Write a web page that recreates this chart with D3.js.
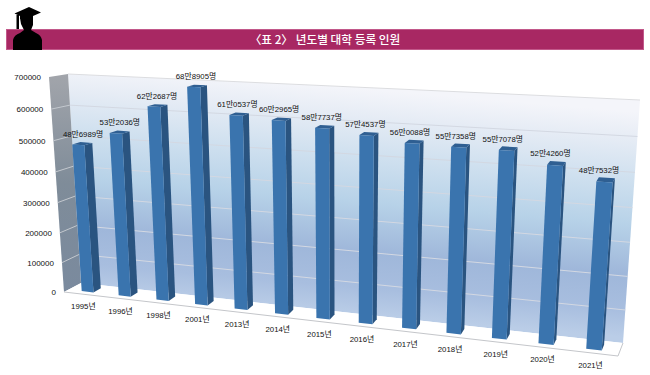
<!DOCTYPE html>
<html>
<head>
<meta charset="utf-8">
<script src="https://cdnjs.cloudflare.com/ajax/libs/d3/7.8.5/d3.min.js"></script>
<style>
	html, body { margin: 0; padding: 0; background: #fff; }
	svg { display: block; }
	text { font-family: "Liberation Sans", "Noto Sans CJK KR", sans-serif; }
</style>
</head>
<body>
<div id="chart"></div>
<script>
const years = ['1995년', '1996년', '1998년', '2001년', '2013년', '2014년', '2015년', '2016년', '2017년', '2018년', '2019년', '2020년', '2021년']
const students = [486989, 532036, 622687, 688905, 610537, 602965, 587737, 574537, 560088, 557358, 557078, 524260, 487532]
const studentLabels = ['48만6989명', '53만2036명', '62만2687명', '68만8905명', '61만0537명', '60만2965명', '58만7737명', '57만4537명', '56만0088명', '55만7358명', '55만7078명', '52만4260명', '48만7532명']
const yTicks = [0, 100000, 200000, 300000, 400000, 500000, 600000, 700000]
const title = '〈표 2〉 년도별 대학 등록 인원'

const width = 650
const height = 375

// corners of the chart box on screen: tl, tr, br, bl
const frontQuad = [[49, 77], [635, 108], [618, 356], [64, 292]]
const backQuad = [[68, 74], [640, 100], [623, 343], [81, 283]]

// unit square -> quad, so the perspective of the original comes out right
function homography(q) {
	const [[x0, y0], [x1, y1], [x2, y2], [x3, y3]] = q
	const dx1 = x1 - x2, dx2 = x3 - x2, sx = x0 - x1 + x2 - x3
	const dy1 = y1 - y2, dy2 = y3 - y2, sy = y0 - y1 + y2 - y3
	const det = dx1 * dy2 - dx2 * dy1
	const g = (sx * dy2 - dx2 * sy) / det
	const h = (dx1 * sy - sx * dy1) / det
	const a = x1 - x0 + g * x1, b = x3 - x0 + h * x3
	const d = y1 - y0 + g * y1, e = y3 - y0 + h * y3
	return (u, v) => {
		const w = g * u + h * v + 1
		return [(a * u + b * v + x0) / w, (d * u + e * v + y0) / w]
	}
}
const frontH = homography(frontQuad)
const backH = homography(backQuad)

// u: 0-1 along categories, value: chart value, depth: 0 front, 1 back
function project(u, value, depth) {
	const v = 1 - yScale(value)
	const p = frontH(u, v)
	const q = backH(u, v)
	return [p[0] + (q[0] - p[0]) * depth, p[1] + (q[1] - p[1]) * depth]
}

const xScale = d3.scaleBand().domain(years).range([0, 1]).paddingInner(0.68).paddingOuter(0.36)
const yScale = d3.scaleLinear().domain([0, 700000]).range([0, 1])
const maxValue = yScale.domain()[1]

// value labels drift left of their bars towards the right of the chart
const labelShift = d3.scaleLinear().domain([0, 1]).range([1, -7])

const barFront = 0.27
const barBack = 0.72

const line = d3.line()
const poly = pts => line(pts) + 'Z'
const center = d => xScale(d) + xScale.bandwidth() / 2

const svg = d3.select('#chart').append('svg')
	.attr('width', width)
	.attr('height', height)

const defs = svg.append('defs')

// wall gradient runs along the value direction of the wall
const gTop = project(0.5, maxValue, 1)
const gBottom = project(0.5, 0, 1)
const tilt = 0.085
const wallGrad = defs.append('linearGradient')
	.attr('id', 'wallGrad')
	.attr('gradientUnits', 'userSpaceOnUse')
	.attr('x1', gTop[0]).attr('y1', gTop[1])
	.attr('x2', gTop[0] - tilt * (gBottom[1] - gTop[1])).attr('y2', gBottom[1])
wallGrad.selectAll('stop')
	.data([[0, '#f4f5fa'], [0.12, '#e6ecf5'], [0.3, '#cfe0ef'], [0.5, '#b7d2e8'], [0.72, '#9fb7da'], [0.88, '#a8bedf'], [1, '#bacde7']])
	.join('stop')
	.attr('offset', d => d[0])
	.attr('stop-color', d => d[1])

const sideGrad = defs.append('linearGradient')
	.attr('id', 'sideGrad')
	.attr('x1', 0).attr('y1', 0).attr('x2', 0).attr('y2', 1)
sideGrad.selectAll('stop')
	.data([[0, '#a2a5ab'], [0.5, '#7f8c99'], [1, '#7a8a9e']])
	.join('stop')
	.attr('offset', d => d[0])
	.attr('stop-color', d => d[1])

// header band
svg.append('rect')
	.attr('x', 6.5).attr('y', 29.5)
	.attr('width', 637).attr('height', 20)
	.attr('fill', '#a82863')
	.attr('stroke', '#c2588a')
	.attr('stroke-width', 1)

svg.append('text')
	.attr('x', 325).attr('y', 44)
	.attr('text-anchor', 'middle')
	.attr('fill', '#fff')
	.style('font-family', '"Noto Sans CJK KR", sans-serif')
	.style('font-size', '11.7px')
	.style('font-weight', 500)
	.text(title)

// graduate silhouette
const grad = svg.append('g').attr('fill', '#000')
grad.append('path').attr('d', 'M13 50 L13 40 Q14 35 20 33 L24 30 L21 24 L20 18 L33 18 L33 25 L31 30 L36 33 Q41 35 42 40 L42 50 Z')
grad.append('path').attr('d', 'M14.5 13.5 L29 7 L41 12.5 L33 16 L33 19 L20 19 L20 16 Z')
grad.append('rect').attr('x', 16.5).attr('y', 15).attr('width', 2.5).attr('height', 14)

// walls and floor
svg.append('path')
	.attr('d', poly([project(0, maxValue, 1), project(1, maxValue, 1), project(1, 0, 1), project(0, 0, 1)]))
	.attr('fill', 'url(#wallGrad)')

svg.append('path')
	.attr('d', poly([project(0, maxValue, 0), project(0, maxValue, 1), project(0, 0, 1), project(0, 0, 0)]))
	.attr('fill', 'url(#sideGrad)')

svg.append('path')
	.attr('d', poly([project(0, 0, 0), project(0, 0, 1), project(1, 0, 1), project(1, 0, 0)]))
	.attr('fill', '#fff')
	.attr('stroke', 'none')

svg.append('path')
	.attr('d', line([project(0, 0, 0), project(1, 0, 0), project(1, 0, 1)]))
	.attr('fill', 'none')
	.attr('stroke', '#c4c6ca')
	.attr('stroke-width', 1)

// grid lines across the back wall and the side wall
const grid = svg.append('g')
grid.selectAll('.wall-line')
	.data(yTicks.filter(d => d > 0))
	.join('path')
	.attr('class', 'wall-line')
	.attr('d', d => line([project(0, d, 1), project(1, d, 1)]))
	.attr('fill', 'none')
	.attr('stroke', d => d == maxValue ? '#dcdde0' : '#d3d8e2')
	.attr('stroke-width', 1)
grid.selectAll('.side-line')
	.data(yTicks.filter(d => d > 0 && d < maxValue))
	.join('path')
	.attr('class', 'side-line')
	.attr('d', d => line([project(0, d, 0), project(0, d, 1)]))
	.attr('fill', 'none')
	.attr('stroke', '#c3c8ce')
	.attr('stroke-width', 1)

// y tick labels
svg.append('g').selectAll('text')
	.data(yTicks)
	.join('text')
	.attr('x', d => project(0, d, 0)[0] - 8)
	.attr('y', d => project(0, d, 0)[1] + 3)
	.attr('text-anchor', 'end')
	.attr('fill', '#111')
	.style('font-size', '8px')
	.text(d => d)

// bars, each one is front + side + top face
const bars = svg.append('g').selectAll('g')
	.data(years)
	.join('g')

function corners(year, i) {
	const u0 = xScale(year)
	const u1 = u0 + xScale.bandwidth()
	const val = students[i]
	return { u0, u1, val }
}

bars.append('path')
	.attr('d', (d, i) => {
		const c = corners(d, i)
		return poly([project(c.u1, c.val, barFront), project(c.u1, c.val, barBack), project(c.u1, 0, barBack), project(c.u1, 0, barFront)])
	})
	.attr('fill', '#2a5480')

bars.append('path')
	.attr('d', (d, i) => {
		const c = corners(d, i)
		return poly([project(c.u0, c.val, barFront), project(c.u0, c.val, barBack), project(c.u1, c.val, barBack), project(c.u1, c.val, barFront)])
	})
	.attr('fill', '#2f5f92')

bars.append('path')
	.attr('d', (d, i) => {
		const c = corners(d, i)
		return poly([project(c.u0, c.val, barFront), project(c.u1, c.val, barFront), project(c.u1, 0, barFront), project(c.u0, 0, barFront)])
	})
	.attr('fill', '#3a74ae')

// value labels above the bars
svg.append('g').selectAll('text')
	.data(years)
	.join('text')
	.attr('x', (d, i) => project(center(d), students[i], 0.5)[0] + labelShift(center(d)))
	.attr('y', (d, i) => project(center(d), students[i], 0.5)[1] - 7)
	.attr('text-anchor', 'middle')
	.attr('fill', '#111')
	.style('font-size', '7.8px')
	.text((d, i) => studentLabels[i])

// category labels under the floor
svg.append('g').selectAll('text')
	.data(years)
	.join('text')
	.attr('x', d => project(center(d), 0, 0)[0] + labelShift(center(d)) * 0.3)
	.attr('y', d => project(center(d), 0, 0)[1] + 15)
	.attr('text-anchor', 'middle')
	.attr('fill', '#111')
	.style('font-size', '7.8px')
	.text(d => d)
</script>
</body>
</html>
